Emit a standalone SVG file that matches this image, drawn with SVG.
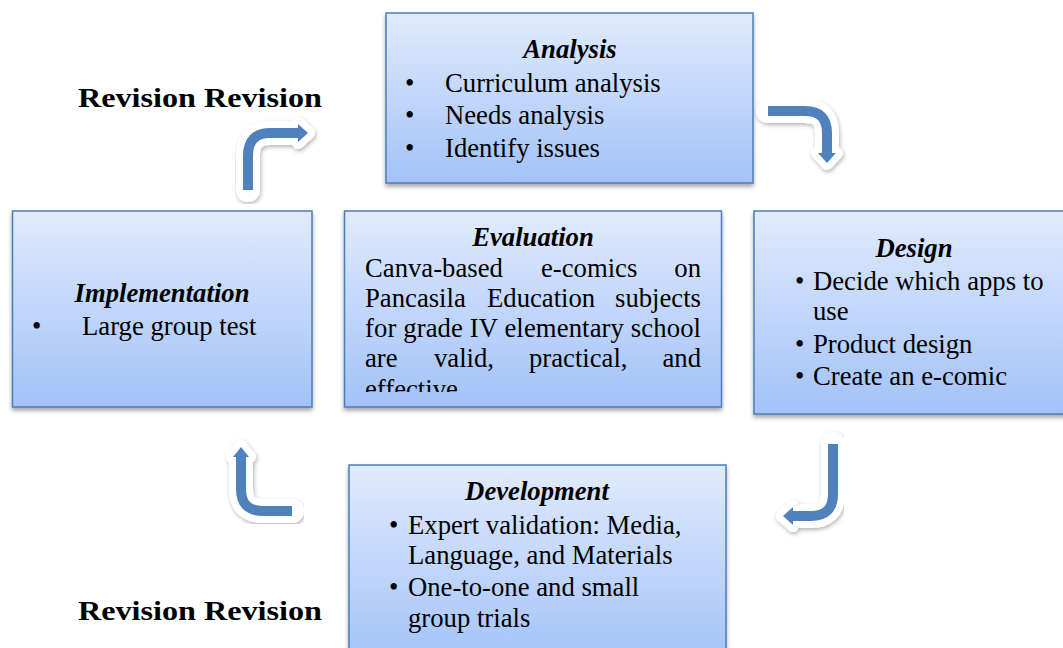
<svg xmlns="http://www.w3.org/2000/svg" width="1063" height="648" viewBox="0 0 1063 648">
<defs>
  <linearGradient id="boxGrad" x1="0" y1="0" x2="0" y2="1">
    <stop offset="0" stop-color="#e0ebfd"/>
    <stop offset="1" stop-color="#a3c2f8"/>
  </linearGradient>
  <filter id="boxShadow" x="-5%" y="-5%" width="110%" height="115%">
    <feDropShadow dx="0" dy="3" stdDeviation="2" flood-color="#000" flood-opacity="0.35"/>
  </filter>
  <filter id="arrowShadow" x="-20%" y="-20%" width="140%" height="140%">
    <feDropShadow dx="1" dy="2" stdDeviation="2" flood-color="#000" flood-opacity="0.3"/>
  </filter>
  <clipPath id="evalClip"><rect x="344" y="211" width="378" height="181"/></clipPath>
  <style>
    .box { fill: url(#boxGrad); stroke: #4a7ebb; stroke-width: 1.5; filter: url(#boxShadow); }
    .t { font-family: "Liberation Serif", "Times New Roman", serif; font-size: 26.7px; fill: #000; }
    .title { font-weight: bold; font-style: italic; text-anchor: middle; }
    .rev { font-family: "Liberation Serif", "Times New Roman", serif; font-size: 28px; font-weight: bold; fill: #000; }
    .aw { fill: none; stroke: #fff; stroke-width: 24; stroke-linejoin: round; stroke-linecap: round; }
    .awh { fill: #fff; stroke: #fff; stroke-width: 12; stroke-linejoin: round; }
    .ab { fill: none; stroke: #4f81bd; stroke-width: 10; }
    .abh { fill: #4f81bd; }
  </style>
</defs>
<rect width="1063" height="648" fill="#fff"/>

<g id="label-revision-top"><text class="rev" x="78" y="107" textLength="244" lengthAdjust="spacingAndGlyphs">Revision Revision</text></g>
<g id="label-revision-bottom"><text class="rev" x="78" y="620" textLength="244" lengthAdjust="spacingAndGlyphs">Revision Revision</text></g>

<g id="node-analysis">
  <rect class="box" x="386" y="13" width="367" height="170"/>
  <text class="t title" x="570" y="58">Analysis</text>
  <text class="t" x="405" y="92">•</text><text class="t" x="445" y="92">Curriculum analysis</text>
  <text class="t" x="405" y="124">•</text><text class="t" x="445" y="124">Needs analysis</text>
  <text class="t" x="405" y="157">•</text><text class="t" x="445" y="157">Identify issues</text>
</g>

<g id="node-implementation">
  <rect class="box" x="12.5" y="211" width="299.5" height="196"/>
  <text class="t title" x="162" y="302">Implementation</text>
  <text class="t" x="32" y="335">•</text><text class="t" x="82" y="335">Large group test</text>
</g>

<g id="node-evaluation">
  <rect class="box" x="344.5" y="211" width="377" height="196"/>
  <text class="t title" x="533" y="246">Evaluation</text>
  <g clip-path="url(#evalClip)">
    <text class="t" x="365" y="277">Canva-based</text>
    <text class="t" x="541" y="277">e-comics</text>
    <text class="t" x="701" y="277" text-anchor="end">on</text>
    <text class="t" x="365" y="307">Pancasila</text>
    <text class="t" x="487" y="307">Education</text>
    <text class="t" x="701" y="307" text-anchor="end">subjects</text>
    <text class="t" x="365" y="337" textLength="336" lengthAdjust="spacing">for grade IV elementary school</text>
    <text class="t" x="365" y="367">are</text>
    <text class="t" x="434" y="367">valid,</text>
    <text class="t" x="529" y="367">practical,</text>
    <text class="t" x="701" y="367" text-anchor="end">and</text>
    <text class="t" x="365" y="398">effective</text>
  </g>
</g>

<g id="node-design">
  <rect class="box" x="754" y="211" width="320" height="203"/>
  <text class="t title" x="914" y="257">Design</text>
  <text class="t" x="795" y="290">•</text><text class="t" x="813" y="290">Decide which apps to</text>
  <text class="t" x="813" y="320">use</text>
  <text class="t" x="795" y="353">•</text><text class="t" x="813" y="353">Product design</text>
  <text class="t" x="795" y="385">•</text><text class="t" x="813" y="385">Create an e-comic</text>
</g>

<g id="node-development">
  <rect class="box" x="349" y="465" width="377" height="200"/>
  <text class="t title" x="537" y="500">Development</text>
  <text class="t" x="389" y="534">•</text><text class="t" x="408" y="534">Expert validation: Media,</text>
  <text class="t" x="408" y="564">Language, and Materials</text>
  <text class="t" x="389" y="596">•</text><text class="t" x="408" y="596">One-to-one and small</text>
  <text class="t" x="408" y="627">group trials</text>
</g>

<g id="connectors">
  <!-- Implementation -> Analysis -->
  <g filter="url(#arrowShadow)">
    <path class="aw" d="M248,190 V156 Q248,133 270,133 H298"/>
    <polygon class="awh" points="298,123 309,133 298,143"/>
  </g>
  <path class="ab" d="M248,190 V156 Q248,133 270,133 H299"/>
  <polygon class="abh" points="298,124 308,133 298,142"/>

  <!-- Analysis -> Design -->
  <g filter="url(#arrowShadow)">
    <path class="aw" d="M768,111 H805 Q827,111 827,133 V153"/>
    <polygon class="awh" points="817,153 837,153 827,164"/>
  </g>
  <path class="ab" d="M768,111 H805 Q827,111 827,133 V154"/>
  <polygon class="abh" points="818,153 836,153 827,163"/>

  <!-- Design -> Development -->
  <g filter="url(#arrowShadow)">
    <path class="aw" d="M833,444 V494 Q833,516 811,516 H793"/>
    <polygon class="awh" points="793,506 793,526 782,516"/>
  </g>
  <path class="ab" d="M833,444 V494 Q833,516 811,516 H792"/>
  <polygon class="abh" points="793,507 793,525 783,516"/>

  <!-- Development -> Implementation -->
  <g filter="url(#arrowShadow)">
    <path class="aw" d="M292,511 H263 Q241,511 241,489 V457"/>
    <polygon class="awh" points="232,457 250,457 241,446"/>
  </g>
  <path class="ab" d="M292,511 H263 Q241,511 241,489 V456"/>
  <polygon class="abh" points="233,457 249,457 241,447"/>
</g>
</svg>
